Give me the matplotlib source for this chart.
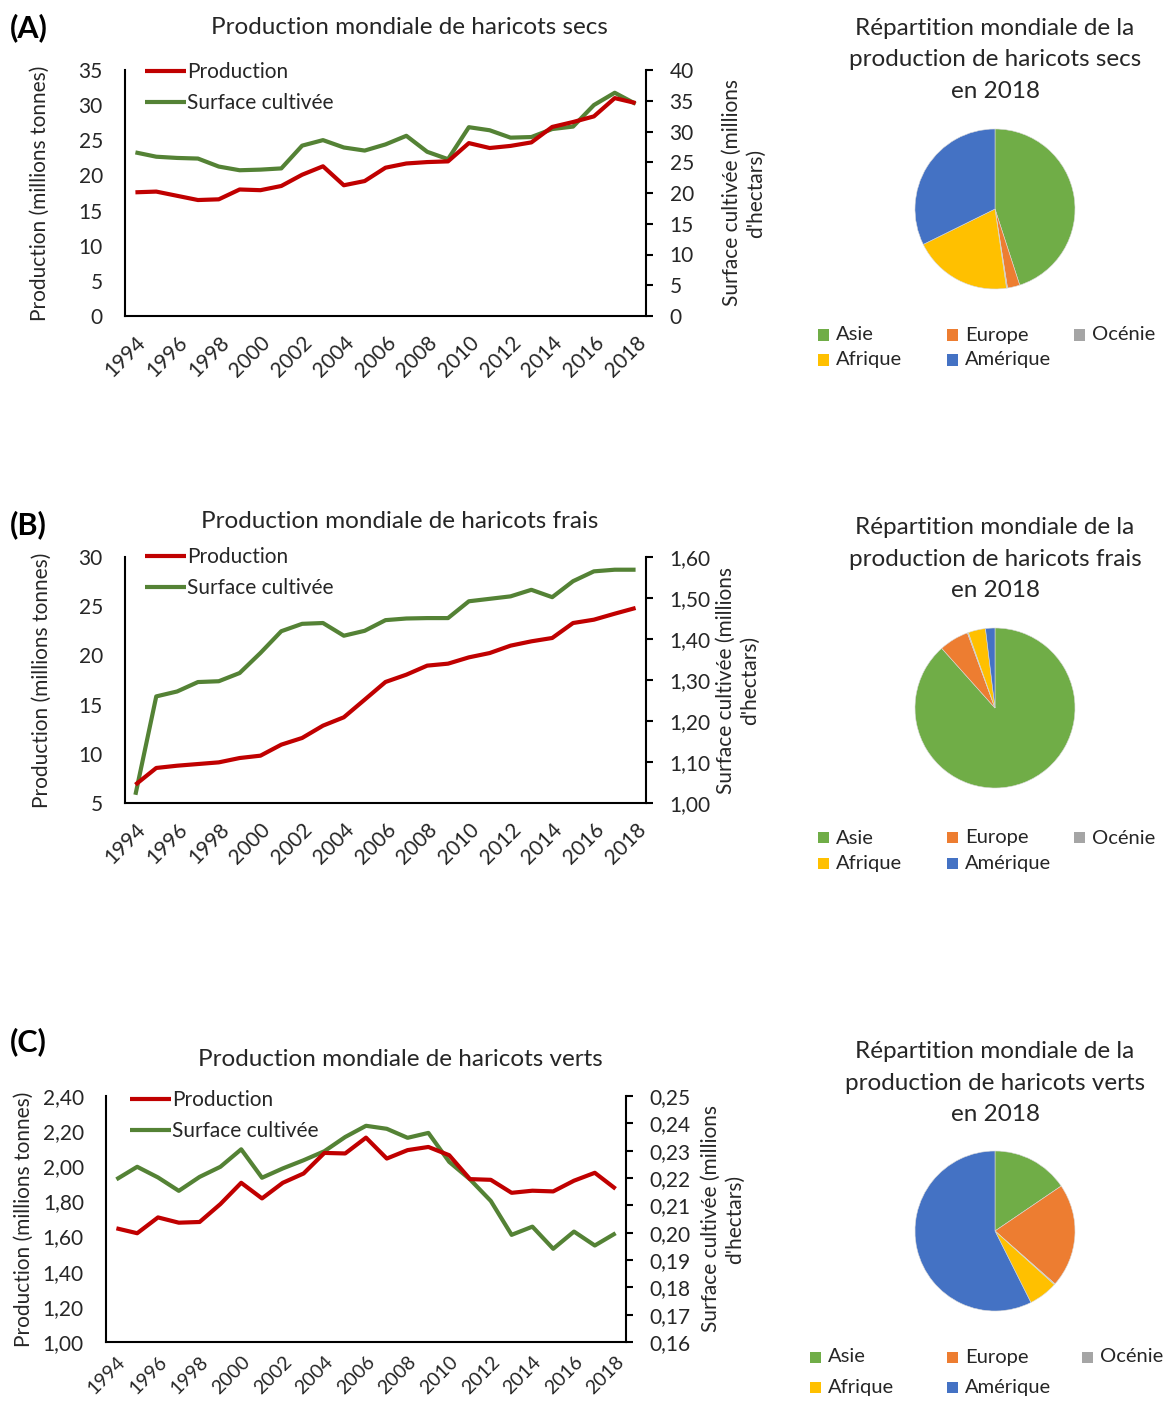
import matplotlib
matplotlib.use("Agg")
import matplotlib.pyplot as plt
from matplotlib.patches import Rectangle
from matplotlib.ticker import FuncFormatter, MultipleLocator

plt.rcParams['font.family'] = ['Lato', 'DejaVu Sans']

# ---------------- data ----------------
years = list(range(1994, 2019))

prod_secs = [17.6, 17.7, 17.1, 16.5, 16.6, 18.0, 17.9, 18.5, 20.1, 21.3, 18.6, 19.2, 21.1,
             21.7, 21.9, 22.0, 24.6, 23.9, 24.2, 24.7, 26.9, 27.6, 28.4, 31.0, 30.3]
surf_secs = [26.6, 25.9, 25.7, 25.6, 24.3, 23.7, 23.8, 24.0, 27.7, 28.6, 27.4, 26.9, 27.9,
             29.3, 26.7, 25.5, 30.7, 30.2, 29.0, 29.1, 30.4, 30.8, 34.3, 36.3, 34.5]

prod_frais = [6.86, 8.56, 8.79, 8.96, 9.13, 9.57, 9.81, 10.93, 11.61, 12.86, 13.71, 15.50, 17.30,
              18.04, 18.96, 19.16, 19.80, 20.24, 20.99, 21.43, 21.77, 23.29, 23.63, 24.24, 24.82]
surf_frais = [1.020, 1.260, 1.272, 1.295, 1.297, 1.317, 1.366, 1.419, 1.437, 1.439, 1.408, 1.420, 1.446,
              1.450, 1.451, 1.451, 1.492, 1.498, 1.504, 1.520, 1.502, 1.541, 1.565, 1.569, 1.569]

prod_verts = [1.647, 1.619, 1.709, 1.679, 1.683, 1.785, 1.906, 1.817, 1.906, 1.959, 2.076, 2.073, 2.163,
              2.044, 2.092, 2.110, 2.063, 1.927, 1.923, 1.849, 1.861, 1.857, 1.918, 1.963, 1.872]
surf_verts = [0.2195, 0.2241, 0.2202, 0.2153, 0.2204, 0.2241, 0.2305, 0.2201, 0.2235, 0.2265, 0.2298,
              0.2350, 0.2391, 0.2380, 0.2347, 0.2365, 0.2259, 0.2195, 0.2116, 0.1992, 0.2022, 0.1941,
              0.2004, 0.1953, 0.1998]

regions = ['Asie', 'Europe', 'Océnie', 'Afrique', 'Amérique']
pie_secs = [45.0, 2.5, 0.2, 20.0, 32.3]
pie_frais = [88.4, 6.0, 0.2, 3.5, 1.9]
pie_verts = [15.5, 21.0, 0.2, 5.9, 57.4]

line_titles = ['Production mondiale de haricots secs',
               'Production mondiale de haricots frais',
               'Production mondiale de haricots verts']
pie_titles = ['Répartition mondiale de la\nproduction de haricots secs\nen 2018',
              'Répartition mondiale de la\nproduction de haricots frais\nen 2018',
              'Répartition mondiale de la\nproduction de haricots verts\nen 2018']
panel_tags = ['(A)', '(B)', '(C)']
left_label = 'Production (millions tonnes)'
right_label = "Surface cultivée (millions\nd'hectars)"
series_names = ['Production', 'Surface cultivée']

# ---------------- style ----------------
W, H = 1165, 1401
RED = '#C00000'
GREEN = '#548235'
PIE_COLORS = ['#70AD47', '#ED7D31', '#A5A5A5', '#FFC000', '#4472C4']
TXT = '#262626'
FS = 15
TFS = 17.5

fig = plt.figure(figsize=(W / 100, H / 100), dpi=100)
fig.patch.set_facecolor('white')


def rect(l, t, r, b):
    return [l / W, 1 - b / H, (r - l) / W, (b - t) / H]


def fx(x):
    return x / W


def fy(y):
    return 1 - y / H


def comma(dec):
    def f(v, pos):
        return f"{v:.{dec}f}".replace('.', ',')
    return FuncFormatter(f)


panels = [
    dict(box=(125, 70, 646, 316), prod=prod_secs, surf=surf_secs,
         ly=(0, 35, 5, 0), ry=(0, 40, 5, 0), title_xy=(409, 28), tag_xy=(10, 28),
         leg_xy=(145, 62), ylab_x=40, rlab_x=744, xfs=FS, xpad=12),
    dict(box=(125, 557, 646, 803), prod=prod_frais, surf=surf_frais,
         ly=(5, 30, 5, 0), ry=(1.0, 1.6, 0.1, 2), title_xy=(400, 521), tag_xy=(10, 525),
         leg_xy=(145, 547), ylab_x=42, rlab_x=738, xfs=FS, xpad=12),
    dict(box=(106, 1096, 626, 1342), prod=prod_verts, surf=surf_verts,
         ly=(1.0, 2.4, 0.2, 2), ry=(0.16, 0.25, 0.01, 2), title_xy=(400, 1060), tag_xy=(10, 1042),
         leg_xy=(130, 1090), ylab_x=24, rlab_x=723, xfs=14, xpad=8),
]

for i, p in enumerate(panels):
    ax = fig.add_axes(rect(*p['box']))
    ax2 = ax.twinx()
    l1, = ax.plot(years, p['prod'], color=RED, lw=3, solid_capstyle='butt', zorder=3)
    l2, = ax2.plot(years, p['surf'], color=GREEN, lw=3, solid_capstyle='butt', zorder=3)
    ax.set_xlim(1993.5, 2018.5)
    lo, hi, step, dec = p['ly']
    ax.set_ylim(lo, hi)
    ax.yaxis.set_major_locator(MultipleLocator(step))
    ax.yaxis.set_major_formatter(comma(dec))
    lo, hi, step, dec = p['ry']
    ax2.set_ylim(lo, hi)
    ax2.yaxis.set_major_locator(MultipleLocator(step))
    ax2.yaxis.set_major_formatter(comma(dec))
    ax.set_xticks(years[::2])
    ax.set_xticklabels([str(y) for y in years[::2]], rotation=45, ha='right',
                       rotation_mode='anchor', fontsize=p['xfs'], color=TXT)
    for a in (ax, ax2):
        a.spines['top'].set_visible(False)
        for s in a.spines.values():
            s.set_linewidth(1.5)
            s.set_color('black')
    ax.spines['right'].set_visible(False)
    ax2.spines['left'].set_visible(False)
    ax2.spines['bottom'].set_visible(False)
    ax.tick_params(axis='x', length=0, pad=p['xpad'])
    ax.tick_params(axis='y', length=0, pad=16, labelsize=FS, labelcolor=TXT)
    ax2.tick_params(axis='y', length=5, width=1.5, pad=12, labelsize=FS, labelcolor=TXT)
    ax.set_zorder(ax2.get_zorder() + 1)
    ax.patch.set_visible(False)

    ymid = (p['box'][1] + p['box'][3]) / 2
    fig.text(fx(p['ylab_x']), fy(ymid), left_label,
             rotation=90, ha='center', va='center', fontsize=FS, color=TXT)
    fig.text(fx(p['rlab_x']), fy(ymid), right_label,
             rotation=90, ha='center', va='center', fontsize=FS, color=TXT,
             multialignment='center', linespacing=1.3)
    fig.text(fx(p['title_xy'][0]), fy(p['title_xy'][1]), line_titles[i],
             ha='center', va='center', fontsize=TFS, color=TXT)
    fig.text(fx(p['tag_xy'][0]), fy(p['tag_xy'][1]), panel_tags[i],
             ha='left', va='center', fontsize=22, fontweight='bold', color='black')
    leg = ax.legend([l1, l2], series_names, loc='upper left', frameon=False,
                    bbox_to_anchor=(fx(p['leg_xy'][0]), fy(p['leg_xy'][1])),
                    bbox_transform=fig.transFigure, borderpad=0, borderaxespad=0,
                    handlelength=1.95, handletextpad=0.05, labelspacing=0.55,
                    fontsize=FS)
    for t in leg.get_texts():
        t.set_color(TXT)

# ---------------- pies ----------------
pies = [
    dict(vals=pie_secs, c=(995, 209), title_y=60, rows=(335, 360), cols=(818, 947, 1074)),
    dict(vals=pie_frais, c=(995, 708), title_y=559, rows=(838, 864), cols=(818, 947, 1074)),
    dict(vals=pie_verts, c=(995, 1231), title_y=1083, rows=(1357, 1387), cols=(810, 947, 1082)),
]
R = 80
SQ = 11
grid = [(0, 0), (0, 1), (0, 2), (1, 0), (1, 1)]  # row, col for Asie, Europe, Océnie, Afrique, Amérique
for i, p in enumerate(pies):
    cx, cy = p['c']
    pax = fig.add_axes(rect(cx - R, cy - R, cx + R, cy + R))
    pax.pie(p['vals'], colors=PIE_COLORS, startangle=90, counterclock=False,
            wedgeprops=dict(linewidth=0.4, edgecolor='#d9d9d9'))
    pax.set_aspect('equal')
    pax.set_xlim(-1.0, 1.0)
    pax.set_ylim(-1.0, 1.0)
    fig.text(fx(995), fy(p['title_y']), pie_titles[i], ha='center', va='center',
             fontsize=TFS, color=TXT, linespacing=1.6)
    for k, (r, c) in enumerate(grid):
        x0 = p['cols'][c]
        yc = p['rows'][r]
        fig.patches.append(Rectangle((fx(x0), fy(yc + SQ / 2)), SQ / W, SQ / H,
                                     transform=fig.transFigure, facecolor=PIE_COLORS[k],
                                     edgecolor='none'))
        fig.text(fx(x0 + SQ + 7), fy(yc), regions[k], ha='left', va='center',
                 fontsize=14.5, color=TXT)

fig.savefig('out.png', dpi=100, facecolor='white')
